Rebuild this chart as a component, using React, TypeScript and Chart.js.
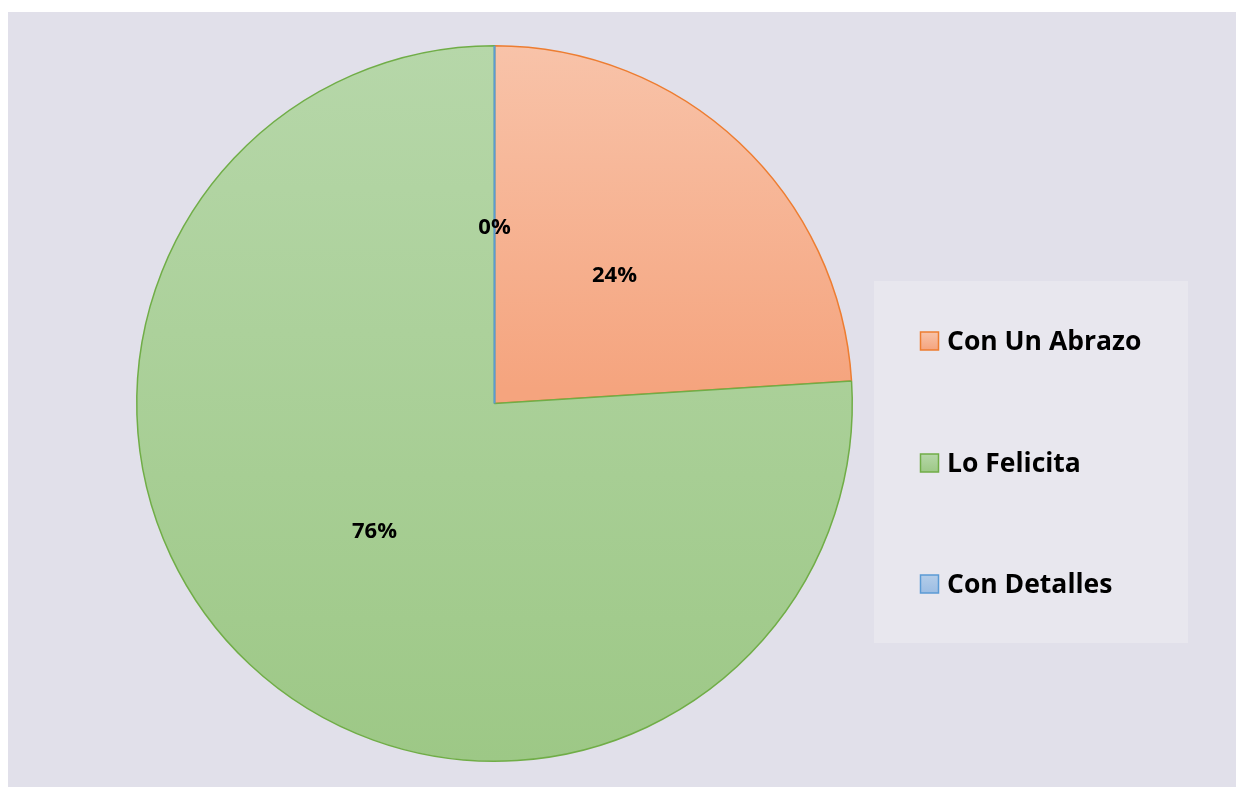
import React, { useEffect, useRef } from "react";
import { Chart, registerables } from "chart.js";

Chart.register(...registerables);

const categories = ["Con Un Abrazo", "Lo Felicita", "Con Detalles"];
const values = [24, 76, 0];
const percentLabels = ["24%", "76%", "0%"];
const fillTop = ["#f8c3a9", "#b6d7a9", "#b4cde9"];
const fillBottom = ["#f5a47e", "#9dc886", "#9cbde3"];
const borderColors = ["#ed7d31", "#70ad47", "#5b9bd5"];

const FONT = "'Open Sans', 'Liberation Sans', sans-serif";

export default function App() {
  const ref = useRef<HTMLCanvasElement | null>(null);

  useEffect(() => {
    if (!ref.current) return;

    const bgColor = (ctx: any) => {
      const chart = ctx.chart;
      const i = ctx.dataIndex;
      const area = chart.chartArea;
      if (!area || i === undefined) return fillTop[i ?? 0];
      const c = chart.ctx;
      const cy = (area.top + area.bottom) / 2;
      const bottom = i === 0 ? cy - 15 : area.bottom;
      const g = c.createLinearGradient(0, area.top, 0, bottom);
      g.addColorStop(0, fillTop[i]);
      g.addColorStop(1, fillBottom[i]);
      return g;
    };

    const overlay = {
      id: "overlay",
      afterDatasetsDraw(chart: any) {
        const c = chart.ctx;
        const meta = chart.getDatasetMeta(0);
        // zero-value slice drawn as a radial line
        meta.data.forEach((arc: any, i: number) => {
          if (values[i] === 0) {
            const a = arc.startAngle;
            c.save();
            c.strokeStyle = borderColors[i];
            c.lineWidth = 2;
            c.beginPath();
            c.moveTo(arc.x, arc.y);
            c.lineTo(arc.x + Math.cos(a) * arc.outerRadius, arc.y + Math.sin(a) * arc.outerRadius);
            c.stroke();
            c.restore();
          }
        });
        // percentage labels
        meta.data.forEach((arc: any, i: number) => {
          const mid = (arc.startAngle + arc.endAngle) / 2;
          const r = arc.outerRadius * 0.49;
          const x = arc.x + Math.cos(mid) * r;
          const y = arc.y + Math.sin(mid) * r;
          c.save();
          c.fillStyle = "#000";
          c.font = `bold 22px ${FONT}`;
          c.textAlign = "center";
          c.textBaseline = "middle";
          c.fillText(percentLabels[i], x, y);
          c.restore();
        });
      },
      afterDraw(chart: any) {
        const c = chart.ctx;
        // legend box
        c.save();
        c.fillStyle = "#e8e7ee";
        c.fillRect(866, 269, 314, 362);
        const ys = [329, 451, 572];
        categories.forEach((label, i) => {
          const y = ys[i];
          const g = c.createLinearGradient(0, y - 9, 0, y + 9);
          g.addColorStop(0, fillTop[i]);
          g.addColorStop(1, fillBottom[i]);
          c.fillStyle = g;
          c.fillRect(912.5, y - 9, 18, 18);
          c.strokeStyle = borderColors[i];
          c.lineWidth = 1.5;
          c.strokeRect(912.5, y - 9, 18, 18);
          c.fillStyle = "#000";
          c.font = `bold 26.5px ${FONT}`;
          c.textAlign = "left";
          c.textBaseline = "middle";
          c.fillText(label, 939, y + 1);
        });
        c.restore();
      },
    };

    const chart = new Chart(ref.current, {
      type: "pie",
      data: {
        labels: categories,
        datasets: [
          {
            data: values,
            backgroundColor: bgColor as any,
            borderColor: borderColors,
            borderWidth: 1.5,
          },
        ],
      },
      options: {
        animation: false,
        responsive: false,
        maintainAspectRatio: false,
        layout: { padding: { left: 128, right: 383, top: 33, bottom: 25 } },
        plugins: {
          legend: { display: false },
          tooltip: { enabled: false },
        },
      },
      plugins: [overlay],
    });

    return () => chart.destroy();
  }, []);

  return (
    <div
      style={{
        position: "absolute",
        left: 8,
        top: 12,
        width: 1228,
        height: 775,
        background: "#e1e0ea",
      }}
    >
      <canvas ref={ref} width={1228} height={775} style={{ display: "block" }} />
    </div>
  );
}
